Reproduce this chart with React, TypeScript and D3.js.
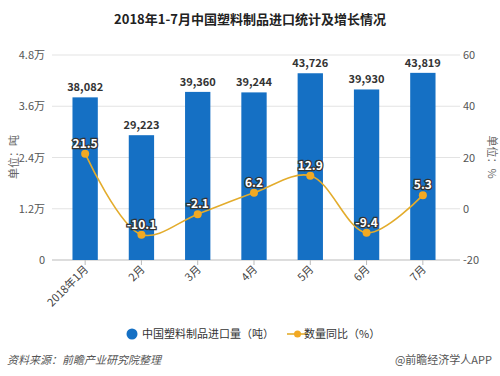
import React from "react";
import * as d3 from "d3";

const categories = ["2018年1月", "2月", "3月", "4月", "5月", "6月", "7月"];
const volumes = [38082, 29223, 39360, 39244, 43726, 39930, 43819];
const growth = [21.5, -10.1, -2.1, 6.2, 12.9, -9.4, 5.3];
const leftTicks = [0, 12000, 24000, 36000, 48000];
const leftTickLabels = ["0", "1.2万", "2.4万", "3.6万", "4.8万"];
const rightTicks = [-20, 0, 20, 40, 60];

const W = 500, H = 376;
const FONT = "'Noto Sans CJK SC', 'Noto Sans', sans-serif";

export default function App() {
  const top = 55, bottom = 260, left = 57, right = 451;
  const x = d3.scaleBand<string>().domain(categories).range([left, right]).paddingInner(0.55).paddingOuter(0.275);
  const yL = d3.scaleLinear().domain([0, 48000]).range([bottom, top]);
  const yR = d3.scaleLinear().domain([-20, 60]).range([bottom, top]);
  const cx = (c: string) => (x(c) as number) + x.bandwidth() / 2;
  const line = d3.line<number>().x((_, i) => cx(categories[i])).y(d => yR(d)).curve(d3.curveCatmullRom.alpha(0.5));
  const fmt = d3.format(",");
  return (
    <svg width={W} height={H} style={{ position: "absolute", left: 0, top: 0, background: "#fff" }} fontFamily={FONT}>
      <text x={250} y={24} textAnchor="middle" fontSize={13} fontWeight="bold" fill="#222">2018年1-7月中国塑料制品进口统计及增长情况</text>
      {leftTicks.map((t, i) => (
        <g key={t}>
          <line x1={52} x2={460} y1={yL(t)} y2={yL(t)} stroke={i === 0 ? "#bbb" : "#e3e3e3"} />
          <text x={45} y={yL(t) + 4} textAnchor="end" fontSize={11} fill="#555">{leftTickLabels[i]}</text>
        </g>
      ))}
      {rightTicks.map(t => (
        <text key={t} x={463} y={yR(t) + 4} fontSize={11} fill="#555">{t}</text>
      ))}
      <text transform="translate(18,157) rotate(-90)" textAnchor="middle" fontSize={11} fill="#666">单位：吨</text>
      <text transform="translate(488,157) rotate(90)" textAnchor="middle" fontSize={11} fill="#666">单位：%</text>
      {categories.map((c, i) => (
        <g key={c}>
          <rect x={x(c)} y={yL(volumes[i])} width={x.bandwidth()} height={bottom - yL(volumes[i])} fill="#1570c4" />
          <line x1={cx(c)} x2={cx(c)} y1={bottom} y2={bottom + 5} stroke="#bbb" />
          <text transform={`translate(${cx(c) + 4},${bottom + 10}) rotate(-45)`} textAnchor="end" fontSize={11} fill="#444">{c}</text>
          <text x={cx(c)} y={yL(volumes[i]) - 6} textAnchor="middle" fontSize={11} fontWeight="bold" fill="#333">{fmt(volumes[i])}</text>
        </g>
      ))}
      <path d={line(growth) || ""} fill="none" stroke="#e3ac2c" strokeWidth={1.6} />
      {growth.map((g, i) => (
        <g key={i}>
          <circle cx={cx(categories[i])} cy={yR(g)} r={4} fill="#f2a923" />
          <text x={cx(categories[i])} y={yR(g) - 6} textAnchor="middle" fontSize={12} fontWeight="bold" fill="#fff" stroke="#333" strokeWidth={2.5} paintOrder="stroke">{g}</text>
        </g>
      ))}
      <circle cx={132} cy={334} r={5.5} fill="#1570c4" />
      <text x={142} y={338} fontSize={11} fill="#333">中国塑料制品进口量（吨）</text>
      <line x1={287} x2={308} y1={334} y2={334} stroke="#e3ac2c" strokeWidth={1.6} />
      <circle cx={297.5} cy={334} r={3.5} fill="#f2a923" />
      <text x={304} y={338} fontSize={11} fill="#333">数量同比（%）</text>
      <text x={7} y={364} fontSize={11} fontStyle="italic" fill="#555">资料来源：前瞻产业研究院整理</text>
      <text x={492} y={364} textAnchor="end" fontSize={11} fill="#555">@前瞻经济学人APP</text>
    </svg>
  );
}
